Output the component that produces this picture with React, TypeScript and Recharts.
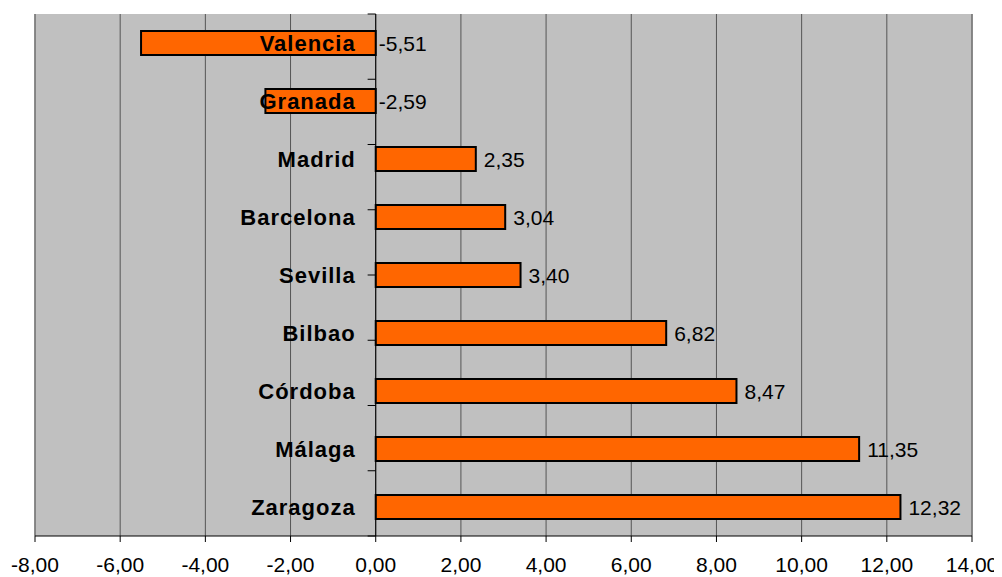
import React from 'react';
import { BarChart, Bar, XAxis, YAxis, CartesianGrid, ReferenceLine, LabelList } from 'recharts';

const categories = ['Valencia', 'Granada', 'Madrid', 'Barcelona', 'Sevilla', 'Bilbao', 'Córdoba', 'Málaga', 'Zaragoza'];
const values = [-5.51, -2.59, 2.35, 3.04, 3.4, 6.82, 8.47, 11.35, 12.32];
const xTicks = [-8, -6, -4, -2, 0, 2, 4, 6, 8, 10, 12, 14];
const boundaries = [0, 1, 2, 3, 4, 5, 6, 7, 8, 9];

const data = categories.map((name, i) => ({ name, value: values[i] }));

const FONT = '"Liberation Sans", Arial, sans-serif';
const fmt = (v: number) => v.toFixed(2).replace('.', ',');

function geom(props: any) {
  const vb = props.viewBox || {};
  const x = Number(vb.x ?? props.x);
  const y = Number(vb.y ?? props.y);
  const width = Number(vb.width ?? props.width);
  const height = Number(vb.height ?? props.height);
  return { x, y, width, height };
}

function zeroOf(x: number, width: number, v: number) {
  if (v >= 0) return width >= 0 ? x : x + width;
  return width < 0 ? x : x + width;
}

const CategoryLabel = (props: any) => {
  const { x, y, width, height } = geom(props);
  const i = props.index;
  const v = values[i];
  const zero = zeroOf(x, width, v);
  return (
    <text
      x={zero - 20}
      y={y + height / 2}
      textAnchor="end"
      dominantBaseline="central"
      fontFamily={FONT}
      fontSize={22}
      fontWeight="bold"
      letterSpacing={1}
      fill="#000"
    >
      {categories[i]}
    </text>
  );
};

const ValueLabel = (props: any) => {
  const { x, y, width, height } = geom(props);
  const i = props.index;
  const v = values[i];
  const zero = zeroOf(x, width, v);
  const lx = v >= 0 ? zero + Math.abs(width) + 8 : zero + 3;
  return (
    <text
      x={lx}
      y={y + height / 2}
      textAnchor="start"
      dominantBaseline="central"
      fontFamily={FONT}
      fontSize={21}
      fill="#000"
    >
      {fmt(v)}
    </text>
  );
};

export default function App() {
  return (
    <div style={{ width: 994, height: 569 }}>
      <BarChart
        width={994}
        height={569}
        data={data}
        layout="vertical"
        margin={{ top: 6, right: 30, bottom: 1, left: 27 }}
        barCategoryGap={0}
      >
        <CartesianGrid horizontal={false} vertical={true} fill="#C0C0C0" stroke="#555555" strokeWidth={1} />
        <XAxis
          type="number"
          dataKey="value"
          domain={[-8, 14]}
          ticks={xTicks}
          interval={0}
          tickFormatter={fmt}
          height={40}
          tickSize={6}
          tickMargin={15}
          axisLine={{ stroke: '#000', strokeWidth: 1 }}
          tickLine={{ stroke: '#000' }}
          tick={{ fill: '#000', fontSize: 21, fontFamily: FONT }}
          allowDataOverflow
        />
        <YAxis type="category" dataKey="name" hide />
        <YAxis yAxisId="n" type="number" domain={[0, 9]} hide />
        <ReferenceLine x={-8} stroke="#808080" strokeWidth={1.5} />
        <ReferenceLine x={14} stroke="#808080" strokeWidth={1.5} />
        <ReferenceLine yAxisId="n" y={9} stroke="#808080" strokeWidth={1.5} />
        <ReferenceLine x={0} stroke="#000" strokeWidth={1} />
        {boundaries.map((b) => (
          <ReferenceLine
            key={b}
            yAxisId="n"
            segment={[{ x: -0.19, y: b }, { x: 0, y: b }]}
            stroke="#000"
            strokeWidth={1}
          />
        ))}
        <Bar dataKey="value" fill="#FF6600" stroke="#000" strokeWidth={2} barSize={24} isAnimationActive={false}>
          <LabelList dataKey="value" content={CategoryLabel} />
          <LabelList dataKey="value" content={ValueLabel} />
        </Bar>
      </BarChart>
    </div>
  );
}
